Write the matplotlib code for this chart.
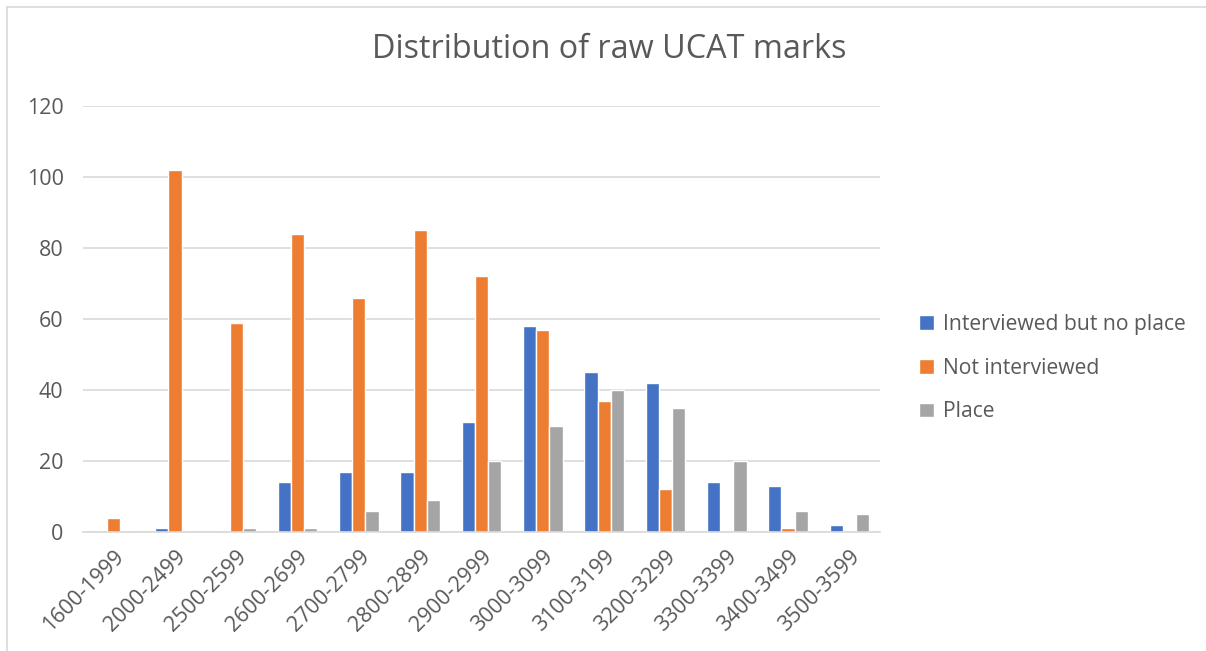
import matplotlib
matplotlib.use("Agg")
import matplotlib.pyplot as plt
import numpy as np
from matplotlib.lines import Line2D

categories = ["1600-1999", "2000-2499", "2500-2599", "2600-2699", "2700-2799",
              "2800-2899", "2900-2999", "3000-3099", "3100-3199", "3200-3299",
              "3300-3399", "3400-3499", "3500-3599"]
interviewed_no_place = [0, 1, 0, 14, 17, 17, 31, 58, 45, 42, 14, 13, 2]
not_interviewed = [4, 102, 59, 84, 66, 85, 72, 57, 37, 12, 0, 1, 0]
place = [0, 0, 1, 1, 6, 9, 20, 30, 40, 35, 20, 6, 5]
series_names = ["Interviewed but no place", "Not interviewed", "Place"]
colors = ["#4472C4", "#ED7D31", "#A5A5A5"]
yticks = [0, 20, 40, 60, 80, 100, 120]

plt.rcParams['font.family'] = ['Open Sans', 'DejaVu Sans']
W, H = 1206, 651
fig = plt.figure(figsize=(W / 100, H / 100), dpi=100)
ax = fig.add_axes([83 / W, 1 - 532 / H, (880 - 83) / W, (532 - 106) / H])

x = np.arange(len(categories))
bw = 0.215
for i, (vals, c, name) in enumerate(zip([interviewed_no_place, not_interviewed, place], colors, series_names)):
    ax.bar(x + (i - 1) * bw, vals, width=bw, color=c, edgecolor="white", linewidth=1.0, label=name, zorder=3)

ax.set_xlim(-0.5, len(categories) - 0.5)
ax.set_ylim(0, 120)
ax.set_yticks(yticks)
ax.set_yticklabels([str(v) for v in yticks], fontsize=15.5, color="#595959")
ax.set_xticks(x)
ax.set_xticklabels(categories, rotation=45, ha="right", rotation_mode="anchor", fontsize=15.5, color="#595959")
ax.tick_params(axis="both", length=0)
ax.tick_params(axis="y", pad=14)
ax.tick_params(axis="x", pad=10)
ax.grid(axis="y", color="#D9D9D9", linewidth=1.2, zorder=0)
for s in ["top", "right", "left"]:
    ax.spines[s].set_visible(False)
ax.spines["bottom"].set_color("#D9D9D9")
ax.spines["bottom"].set_linewidth(1.2)
ax.spines["bottom"].set_zorder(4)

fig.text(609 / W, 1 - 50 / H, "Distribution of raw UCAT marks", ha="center", va="center",
         fontsize=23.3, color="#595959")

leg = fig.legend(loc="center left", bbox_to_anchor=(900 / W, 1 - 368 / H), frameon=False,
                 fontsize=15.2, labelcolor="#595959", handlelength=0.7, handleheight=0.7,
                 handletextpad=0.45, labelspacing=1.08)

fig.add_artist(Line2D([7 / W, 1], [1 - 7 / H, 1 - 7 / H], color="#D9D9D9", linewidth=1.2))
fig.add_artist(Line2D([7 / W, 7 / W], [0, 1 - 7 / H], color="#D9D9D9", linewidth=1.2))

fig.savefig("out.png", dpi=100)
